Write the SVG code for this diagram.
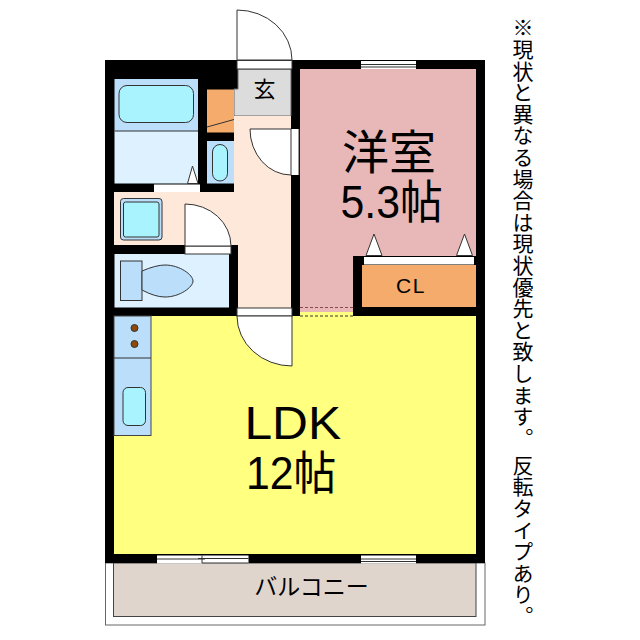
<svg xmlns="http://www.w3.org/2000/svg" width="640" height="640" viewBox="0 0 640 640">
<style>
.l{stroke:#333;stroke-width:1}
.d{fill:#fff;stroke:#333;stroke-width:1}
.w{fill:#fff;stroke:none}
.wl{stroke:#333;stroke-width:1;fill:none}
.blue{fill:#bbdefb}
.pale{fill:#ddf1ff}
.aqua{fill:#a9f3ff;stroke:#333;stroke-width:1}
.peach{fill:#fde8da}
.org{fill:#f4ab6b}
.t{font-family:"Liberation Sans","Noto Sans CJK JP",sans-serif;fill:#000}
.j{font-family:"Noto Sans CJK JP",sans-serif;fill:#000}
</style>
<rect width="640" height="640" fill="#fff"/>
<g id="balcony">
<rect x="105.500" y="563" width="379.500" height="62" fill="#fff" stroke="#666" stroke-width="1"/>
<rect x="113.500" y="563" width="362.500" height="53.500" fill="#e0d5cc" stroke="#444" stroke-width="1"/>
<text class="j" x="311.500" y="595" font-size="23" text-anchor="middle">バルコニー</text>
</g>
<rect id="walls" x="105" y="60" width="380" height="503" fill="#000"/>
<g id="western-room">
<rect x="300" y="69" width="176" height="243" fill="#e8b8b8"/>
<text class="j" x="389" y="169" font-size="47" text-anchor="middle">洋室</text>
<text class="t" transform="translate(340.500 218) scale(0.93 1)" font-size="46">5.3帖</text>
</g>
<g id="closet">
<rect x="353" y="256" width="132" height="60" fill="#000"/>
<rect class="org" x="362" y="265" width="114" height="42"/>
<rect class="w" x="364" y="257" width="110" height="7.500"/>
<path class="d" d="M366 255.500L374 234L382 255.500Z"/>
<path class="d" d="M456.500 255.500L464.500 234L472.500 255.500Z"/>
<text class="t" x="396" y="293" font-size="21" letter-spacing="1.500">CL</text>
</g>
<g id="ldk">
<rect x="300" y="312" width="53" height="5" fill="#ffff80"/>
<rect x="114" y="316" width="362" height="238" fill="#ffff80"/>
<path d="M300 307.500H353" stroke="#8a4a4a" stroke-width="1" stroke-dasharray="3 2" fill="none"/>
<path d="M300 316H353" stroke="#333" stroke-width="1" stroke-dasharray="3 2" fill="none"/>
<text class="t" transform="translate(244.500 439) scale(1.08 1)" font-size="46">LDK</text>
<text class="t" transform="translate(246 489) scale(0.93 1)" font-size="46">12帖</text>
</g>
<g id="kitchen">
<rect class="blue" x="114" y="316" width="37" height="119.500" stroke="#444" stroke-width="1"/>
<path class="l" d="M114 358H151"/>
<circle cx="134.500" cy="328" r="3.500" fill="#8b4a0a" stroke="#333"/>
<circle cx="134.500" cy="344" r="3.500" fill="#8b4a0a" stroke="#333"/>
<rect class="aqua" x="123" y="387.500" width="22.500" height="38" rx="5"/>
</g>
<g id="entrance">
<path class="d" d="M237 60V10A55 50 0 0 1 292 60Z"/>
<path d="M238 69H291V116H234V89H238Z" fill="#dcdcdc" stroke="#666" stroke-width="1"/>
<text class="j" x="264.500" y="97" font-size="22" text-anchor="middle">玄</text>
<rect class="d" x="237" y="60.500" width="55" height="8.500"/>
</g>
<g id="hall">
<path class="peach" d="M234 116H291V308H238V245H114V192H234Z"/>
<rect class="w" x="291" y="129" width="8" height="46"/>
<path class="d" d="M250 129H291V175A41 46 0 0 1 250 129Z"/>
<path class="wl" d="M299 129V175"/>
</g>
<g id="storage">
<rect class="org" x="207" y="89.500" width="27" height="43"/>
<path class="l" d="M207 127L234 119.500"/>
</g>
<g id="bathroom">
<rect class="blue" x="114.500" y="79" width="83.500" height="52"/>
<rect class="pale" x="114.500" y="131" width="83.500" height="52.500"/>
<path class="l" d="M114.500 131H198"/>
<rect class="aqua" x="119" y="85.500" width="74.500" height="37" rx="8"/>
<path class="d" d="M187.500 183.500L192.500 166L198 183.500Z"/>
<rect class="w" x="154" y="184.500" width="46" height="7.500"/>
</g>
<g id="sink">
<rect class="blue" x="207" y="141" width="27" height="42.500"/>
<rect class="aqua" x="212.500" y="144.500" width="15" height="36.500" rx="7.500"/>
</g>
<g id="washer">
<rect x="120.500" y="198.500" width="41.500" height="41.500" rx="3" fill="#bbdefb" stroke="#333"/>
<rect class="aqua" x="123.500" y="202" width="35.500" height="35" rx="2"/>
</g>
<g id="toilet-room">
<rect x="229" y="245" width="9" height="71" fill="#000"/>
<rect class="pale" x="114.500" y="254" width="114.500" height="53.500"/>
<rect class="blue" x="120.500" y="261" width="21.500" height="39.500" stroke="#333"/>
<path class="blue" stroke="#333" d="M142 271Q156 265 165 265C180 265 193 275 193 281C193 287 180 297 165 297Q155 297 142 290Z"/>
<rect class="d" x="185" y="246" width="46" height="8"/>
<path class="d" d="M185 204A46 42 0 0 1 231 246H185Z"/>
</g>
<g id="ldk-door">
<rect class="d" x="237" y="308" width="55" height="8"/>
<path class="d" d="M237 316H292V366A55 50 0 0 1 237 316Z"/>
</g>
<g id="connectors"></g>
<g id="windows">
<rect class="w" x="361" y="61" width="55" height="8"/>
<path class="wl" d="M361 64.500H416M361 67H416"/>
<rect class="w" x="157" y="555.500" width="91.500" height="8"/>
<path class="wl" d="M157 559H205M202 563H248.500M198 558.500H248.500M202 555.500V563"/>
<rect class="w" x="361" y="555.500" width="55" height="8"/>
<path class="wl" d="M361 559H416M361 561.500H416"/>
</g>
<text id="note" class="j" x="523" y="17" font-size="21" letter-spacing="0.600" style="writing-mode:vertical-rl">※現状と異なる場合は現状優先と致します。 反転タイプあり。</text>
</svg>
